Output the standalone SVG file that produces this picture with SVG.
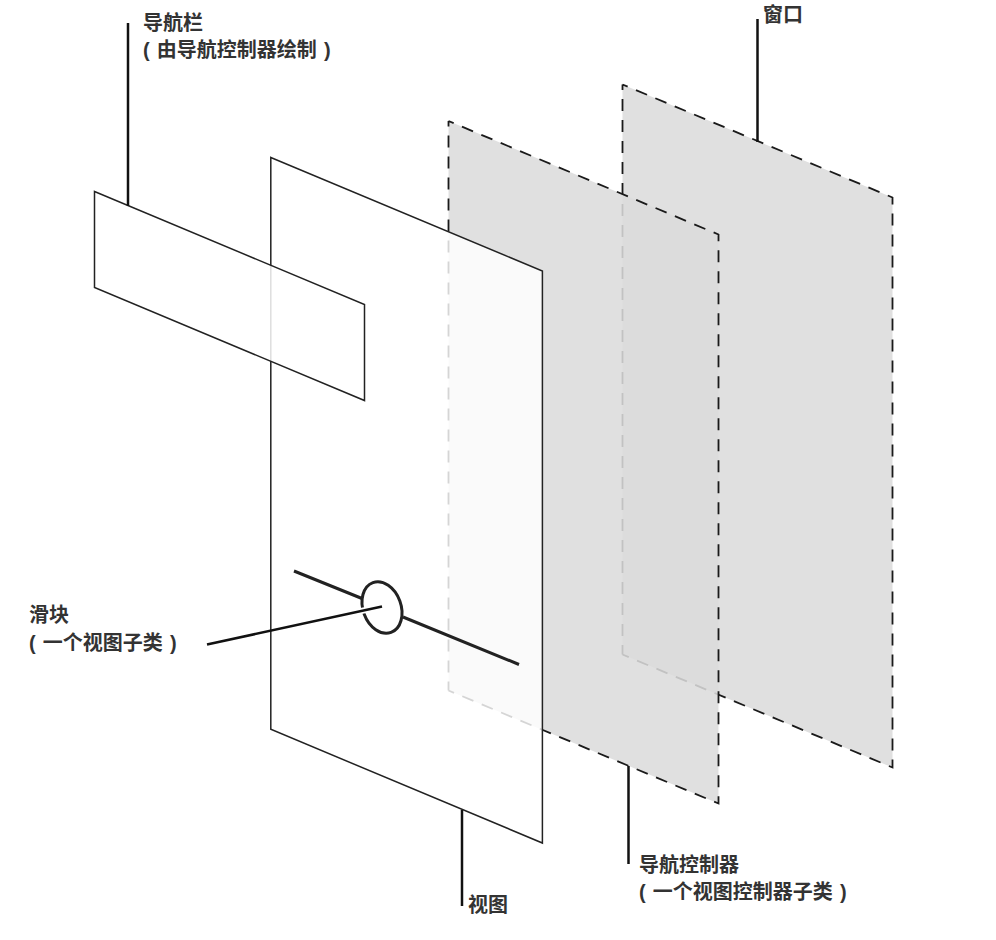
<svg xmlns="http://www.w3.org/2000/svg" width="996" height="940" viewBox="0 0 996 940">
<style>
.lbl{font-family:"Liberation Sans","Noto Sans CJK SC",sans-serif;font-size:20px;font-weight:700;fill:#333;word-spacing:1.600px}
.sheet{stroke:#222;stroke-width:1.5;stroke-linejoin:miter}
.edge{fill:none;stroke:#1a1a1a;stroke-width:1.8;stroke-dasharray:12 9;stroke-dashoffset:6.4}
.lead{fill:none;stroke:#111;stroke-width:2.5}
.bar{fill:none;stroke:#222;stroke-width:3}
</style>
<rect width="996" height="940" fill="#fff"/>
<g id="window">
<polygon points="622.5,84.5 892.5,197.5 892.5,767.5 622.5,654.5" fill="#e0e0e0"/>
<path class="edge" d="M622.5 84.500L892.5 197.500V767.500L622.5 654.500M622.5 84.500V654.500"/>
</g>
<g id="navigation-controller">
<polygon points="448.5,121 718.5,234.5 718.5,803.5 448.5,690.5" fill="#dbdbdb" fill-opacity="0.87"/>
<path class="edge" d="M448.5 121L718.5 234.500V803.500L448.5 690.500M448.5 121V690.500"/>
</g>
<g id="view">
<polygon class="sheet" points="270.8,157.5 542.400,271 542.400,843 270.8,729.300" fill="#fff" fill-opacity="0.82"/>
</g>
<g id="navigation-bar">
<polygon class="sheet" points="94.5,191.5 364.5,304.5 364.5,400.5 94.5,287.5" fill="#fff" fill-opacity="0.85"/>
</g>
<g id="slider">
<path class="bar" d="M294 571L362 598.500M403 617L519 664.500"/>
<ellipse class="bar" cx="382" cy="607.500" rx="19" ry="26.500" transform="rotate(-20 382 607.500)"/>
</g>
<g id="connectors">
<path class="lead" d="M128 23V206"/>
<path class="lead" d="M757.5 19V142"/>
<path class="lead" d="M462 810V906"/>
<path class="lead" d="M628.5 766V864"/>
<path d="M354 612.500L368 609.500" fill="none" stroke="#fff" stroke-width="6"/>
<path class="lead" d="M207 644.500L382 606.500"/>
</g>
<g id="labels">
<text class="lbl" x="143" y="30">导航栏</text>
<text class="lbl" x="143" y="57">( 由导航控制器绘制 )</text>
<text class="lbl" x="763" y="22">窗口</text>
<text class="lbl" x="29" y="622">滑块</text>
<text class="lbl" x="29" y="650">( 一个视图子类 )</text>
<text class="lbl" x="468" y="912">视图</text>
<text class="lbl" x="639" y="872">导航控制器</text>
<text class="lbl" x="639" y="899">( 一个视图控制器子类 )</text>
</g>
</svg>
